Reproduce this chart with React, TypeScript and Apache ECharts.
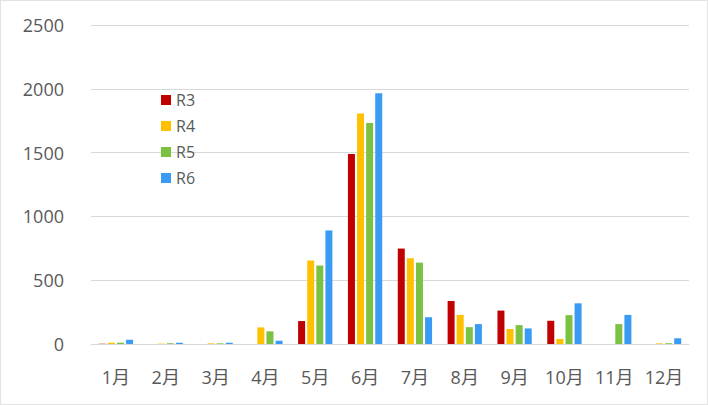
import React, { useEffect, useRef } from "react";
import * as echarts from "echarts";

const categories = ["1月", "2月", "3月", "4月", "5月", "6月", "7月", "8月", "9月", "10月", "11月", "12月"];
const seriesNames = ["R3", "R4", "R5", "R6"];
const r3 = [2, 0, 0, 0, 180, 1490, 748, 337, 262, 182, 0, 0];
const r4 = [10, 3, 5, 130, 654, 1807, 672, 228, 117, 39, 0, 5];
const r5 = [10, 6, 5, 99, 615, 1731, 638, 132, 148, 226, 156, 6];
const r6 = [33, 10, 10, 26, 890, 1965, 210, 156, 122, 319, 228, 45];
const colors = ["#C00000", "#FFC000", "#7DC143", "#3A9BF5"];
const yTicks = { min: 0, max: 2500, interval: 500 };

export default function App() {
  const ref = useRef<HTMLDivElement>(null);
  useEffect(() => {
    if (!ref.current) return;
    const chart = echarts.init(ref.current, undefined, { renderer: "svg" });
    const font = "'Open Sans', 'Noto Sans CJK SC', sans-serif";
    const data = [r3, r4, r5, r6];
    chart.setOption({
      animation: false,
      backgroundColor: "#ffffff",
      color: colors,
      legend: {
        orient: "vertical",
        left: 155,
        top: 86,
        itemWidth: 10,
        itemHeight: 10,
        itemGap: 10,
        icon: "rect",
        textStyle: { fontFamily: font, fontSize: 16, color: "#595959" },
        data: seriesNames,
      },
      grid: { left: 90, right: 18, top: 24, bottom: 60 },
      xAxis: {
        type: "category",
        data: categories,
        axisLine: { show: true, lineStyle: { color: "#d9d9d9" } },
        axisTick: { show: false },
        axisLabel: { interval: 0, fontFamily: font, fontSize: 18, color: "#595959", margin: 24 },
      },
      yAxis: {
        type: "value",
        min: yTicks.min,
        max: yTicks.max,
        interval: yTicks.interval,
        axisLine: { show: false },
        axisTick: { show: false },
        splitLine: { lineStyle: { color: "#d9d9d9" } },
        axisLabel: {
          fontFamily: font,
          fontSize: 18,
          color: "#595959",
          margin: 27,
          formatter: (v: number) => String(v),
        },
      },
      series: seriesNames.map((n, i) => ({
        name: n,
        type: "bar",
        data: data[i],
        barWidth: 7,
        barGap: "30%",
        itemStyle: { color: colors[i] },
      })),
    });
    return () => chart.dispose();
  }, []);
  return (
    <div
      ref={ref}
      style={{
        position: "fixed",
        left: 0,
        top: 0,
        width: 708,
        height: 405,
        boxSizing: "border-box",
        border: "1px solid #e3e3e3",
        background: "#fff",
      }}
    />
  );
}
